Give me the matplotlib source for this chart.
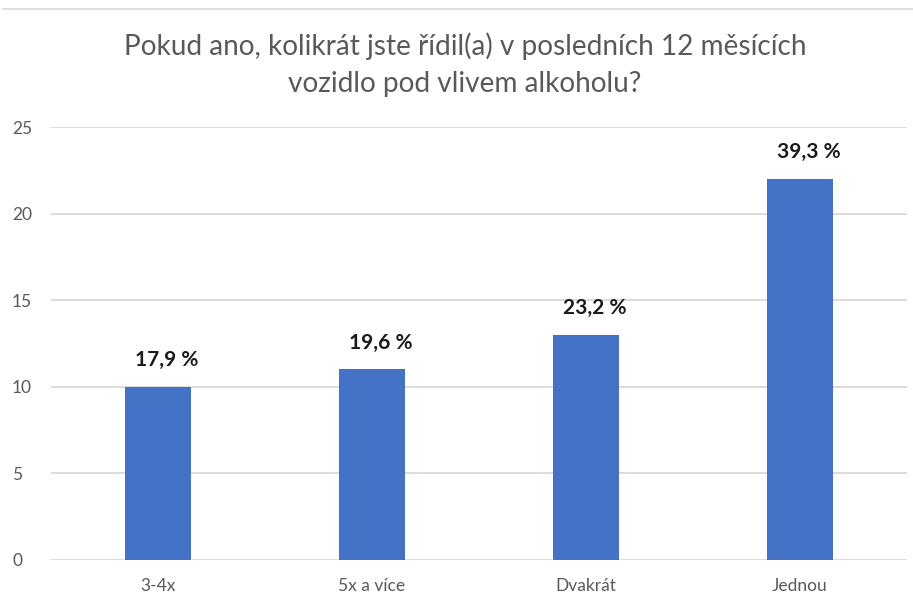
import matplotlib
matplotlib.use("Agg")
import matplotlib.pyplot as plt
from matplotlib.lines import Line2D

categories = ["3-4x", "5x a více", "Dvakrát", "Jednou"]
values = [10, 11, 13, 22]
labels = ["17,9 %", "19,6 %", "23,2 %", "39,3 %"]
yticks = [0, 5, 10, 15, 20, 25]
title = "Pokud ano, kolikrát jste řídil(a) v posledních 12 měsících\nvozidlo pod vlivem alkoholu?"

plt.rcParams['font.family'] = ['Lato', 'DejaVu Sans']

W, H = 913, 595
fig = plt.figure(figsize=(W / 100, H / 100), dpi=100)
ax = fig.add_axes([51 / W, 1 - 560 / H, (907 - 51) / W, (560 - 127) / H])

x = list(range(len(categories)))
bars = ax.bar(x, values, width=0.313, color="#4472C4", zorder=3)
ax.set_xlim(-0.5, 3.5)
ax.set_ylim(0, 25)
ax.set_yticks(yticks)
ax.set_xticks(x)
ax.set_xticklabels(categories)
ax.grid(axis='y', color='#d9d9d9', linewidth=1.3, zorder=0)
for s in ax.spines.values():
    s.set_visible(False)
ax.tick_params(axis='both', length=0, colors='#595959', labelsize=12.5)
ax.tick_params(axis='y', pad=28)
ax.tick_params(axis='x', pad=13)
for lab in ax.get_yticklabels():
    lab.set_horizontalalignment('left')
for b, t in zip(bars, labels):
    ax.annotate(t, (b.get_x() + b.get_width() / 2 + 0.04, b.get_height()),
                xytext=(0, 12), textcoords='offset points', ha='center', va='bottom',
                fontsize=15, fontweight='bold', color='#1a1a1a')

fig.text(0.5 * (122 + 808) / W, 1 - 65 / H, title, ha='center', va='center',
         fontsize=20.2, color='#595959', linespacing=1.52)
fig.add_artist(Line2D([3 / W, 1], [1 - 9 / H] * 2, color='#d9d9d9', linewidth=1.2))

fig.savefig("out.png", dpi=100)
